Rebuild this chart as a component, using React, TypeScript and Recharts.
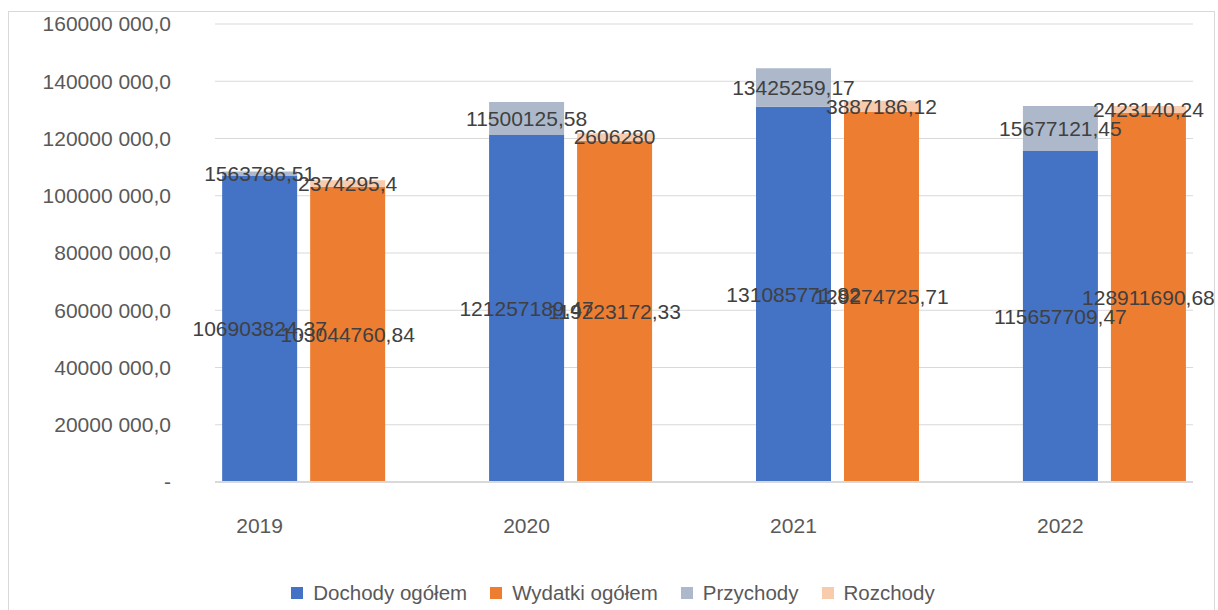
import React from "react"
import { Bar, BarChart, CartesianGrid, LabelList, Legend, XAxis, YAxis } from "recharts"

const years = ["2019", "2020", "2021", "2022"]
const dochody = [106903824.37, 121257189.47, 131085771.82, 115657709.47]
const przychody = [1563786.51, 11500125.58, 13425259.17, 15677121.45]
const wydatki = [103044760.84, 119223172.33, 129274725.71, 128911690.68]
const rozchody = [2374295.4, 2606280, 3887186.12, 2423140.24]
const yTicks = [0, 20000000, 40000000, 60000000, 80000000, 100000000, 120000000, 140000000, 160000000]

const series = [
  { key: "dochody", name: "Dochody ogółem", color: "#4472C4", stack: "a" },
  { key: "wydatki", name: "Wydatki ogółem", color: "#ED7D31", stack: "b" },
  { key: "przychody", name: "Przychody", color: "#ADB9CA", stack: "a" },
  { key: "rozchody", name: "Rozchody", color: "#F8CBAD", stack: "b" },
]

const data = years.map((year, i) => ({
  idx: i,
  year,
  dochody: dochody[i],
  przychody: przychody[i],
  wydatki: wydatki[i],
  rozchody: rozchody[i],
}))

const FONT = "'Liberation Sans', Arial, sans-serif"

const fmtLabel = (v: any) => String(v).replace(".", ",")

const fmtY = (v: number) => {
  if (v === 0) return "-"
  const s = String(Math.round(v))
  return `${s.slice(0, -3)} ${s.slice(-3)},0`
}

// year labels sit under the first bar of each pair
const YearTick = (props: any) => {
  const { x, y, payload } = props
  return (
    <text x={x - 44} y={y} dy="0.71em" textAnchor="middle" fill="#595959" fontSize={21} fontFamily={FONT}>
      {years[payload.value]}
    </text>
  )
}

const LegendContent = () => (
  <div
    style={{
      display: "flex",
      justifyContent: "center",
      fontFamily: FONT,
      fontSize: 20.5,
      lineHeight: "24px",
      color: "#595959",
      paddingLeft: 8,
    }}
  >
    {series.map((s, i) => (
      <div key={s.key} style={{ display: "flex", alignItems: "center", marginLeft: i === 0 ? 0 : 23 }}>
        <span style={{ width: 12, height: 12, background: s.color, display: "inline-block", marginRight: 10 }} />
        <span>{s.name}</span>
      </div>
    ))}
  </div>
)

export default function App() {
  return (
    <div style={{ position: "absolute", left: 0, top: 0, width: 1218, height: 610 }}>
      <div
        style={{
          position: "absolute",
          left: 8,
          top: 11,
          width: 1207,
          height: 620,
          border: "1.5px solid #d9d9d9",
          boxSizing: "border-box",
        }}
      />
      <BarChart
        width={1218}
        height={610}
        data={data}
        margin={{ top: 24, right: 25, bottom: 68, left: 0 }}
        barSize={75}
        barGap={13}
        style={{ position: "absolute", left: 0, top: 0 }}
      >
        <CartesianGrid vertical={false} stroke="#d9d9d9" />
        <XAxis
          dataKey="idx"
          type="number"
          domain={[-0.332, 3.332]}
          ticks={[0, 1, 2, 3]}
          height={60}
          tick={<YearTick />}
          tickLine={false}
          tickSize={0}
          tickMargin={36}
          axisLine={{ stroke: "#d9d9d9", strokeWidth: 2 }}
        />
        <YAxis
          width={215}
          domain={[0, 160000000]}
          ticks={yTicks}
          tickFormatter={fmtY}
          axisLine={false}
          tickLine={false}
          tickSize={0}
          tickMargin={44}
          tick={{ fill: "#595959", fontSize: 21, fontFamily: FONT }}
        />
        <Legend
          layout="horizontal"
          verticalAlign="middle"
          align="center"
          wrapperStyle={{ top: 581, left: 0, width: 1218 }}
          content={<LegendContent />}
        />
        {series.map((s) => (
          <Bar key={s.key} dataKey={s.key} name={s.name} stackId={s.stack} fill={s.color} isAnimationActive={false}>
            <LabelList
              dataKey={s.key}
              position="center"
              formatter={fmtLabel}
              fill="#404040"
              fontSize={21}
              fontFamily={FONT}
            />
          </Bar>
        ))}
      </BarChart>
    </div>
  )
}
